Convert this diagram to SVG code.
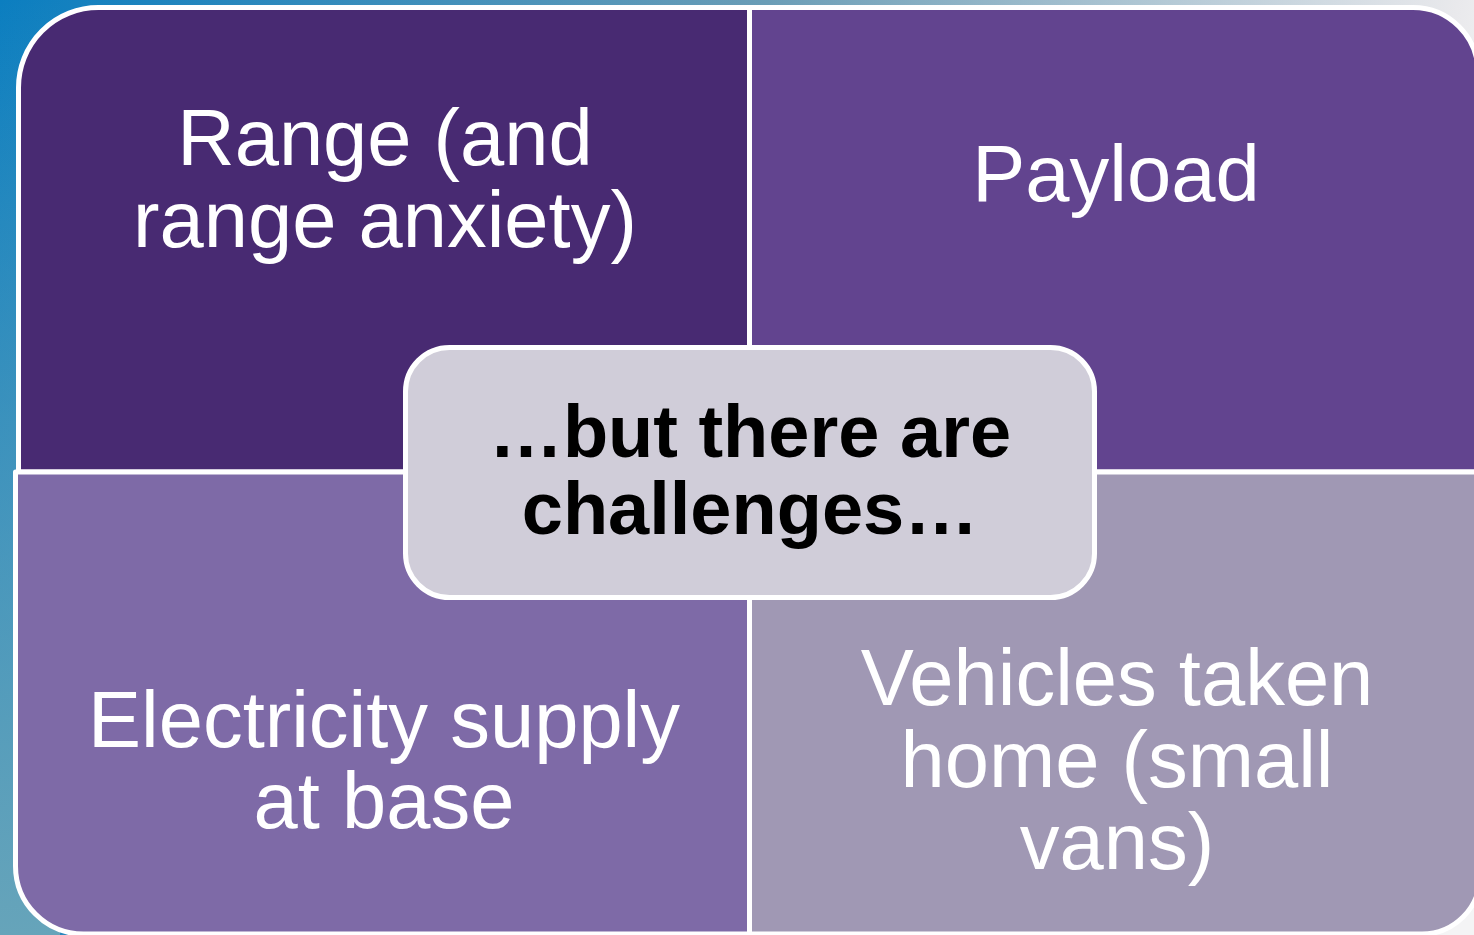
<svg xmlns="http://www.w3.org/2000/svg" width="1474" height="935" viewBox="0 0 1474 935">
<defs>
<linearGradient id="bg" gradientUnits="userSpaceOnUse" x1="0" y1="0" x2="1474" y2="300">
<stop offset="0" stop-color="#0b7ec0"/>
<stop offset="0.5" stop-color="#6a9db6"/>
<stop offset="0.95" stop-color="#e9e9ec"/>
<stop offset="1" stop-color="#f4f4f5"/>
</linearGradient>
<linearGradient id="lv" gradientUnits="userSpaceOnUse" x1="0" y1="0" x2="0" y2="935">
<stop offset="0" stop-color="#6aa6bb" stop-opacity="0"/>
<stop offset="1" stop-color="#66a4ba" stop-opacity="1"/>
</linearGradient>
</defs>
<style>
.q{stroke:#ffffff;stroke-width:5;stroke-linejoin:round}
.t{font-family:"Liberation Sans",Arial,sans-serif;font-size:79.5px;fill:#ffffff;text-anchor:middle}
.c{font-family:"Liberation Sans",Arial,sans-serif;font-size:74px;font-weight:bold;fill:#000000;text-anchor:middle}
</style>
<rect x="0" y="0" width="1474" height="935" fill="url(#bg)"/>
<rect x="0" y="0" width="60" height="935" fill="url(#lv)"/>
<g id="range">
<path class="q" fill="#482a72" d="M18.5,87.5 A80,80 0 0 1 98.5,7.5 L749.5,7.5 L749.5,472 L18.5,472 Z"/>
<text class="t" x="385" y="165">Range (and</text>
<text class="t" x="385" y="247">range anxiety)</text>
</g>
<g id="payload">
<path class="q" fill="#62448f" d="M749.5,7.5 L1413,7.5 A65,65 0 0 1 1478,72.5 L1478,472 L749.5,472 Z"/>
<text class="t" x="1116" y="201">Payload</text>
</g>
<g id="electricity">
<path class="q" fill="#7e6aa7" d="M15.5,472 L749.5,472 L749.5,934 L83.5,934 A68,68 0 0 1 15.5,866 Z"/>
<text class="t" x="384" y="747">Electricity supply</text>
<text class="t" x="384" y="828">at base</text>
</g>
<g id="vehicles">
<path class="q" fill="#a098b4" d="M749.5,472 L1480,472 L1480,876 A58,58 0 0 1 1422,934 L749.5,934 Z"/>
<text class="t" x="1117" y="705">Vehicles taken</text>
<text class="t" x="1117" y="787">home (small</text>
<text class="t" x="1117" y="869">vans)</text>
</g>
<g id="center">
<rect x="405.5" y="347.5" width="689" height="250" rx="44" ry="44" fill="#d0cdd9" stroke="#ffffff" stroke-width="5"/>
<text class="c" x="750" y="457">…but there are</text>
<text class="c" x="750" y="534">challenges…</text>
</g>
<g id="connectors"/>
</svg>
